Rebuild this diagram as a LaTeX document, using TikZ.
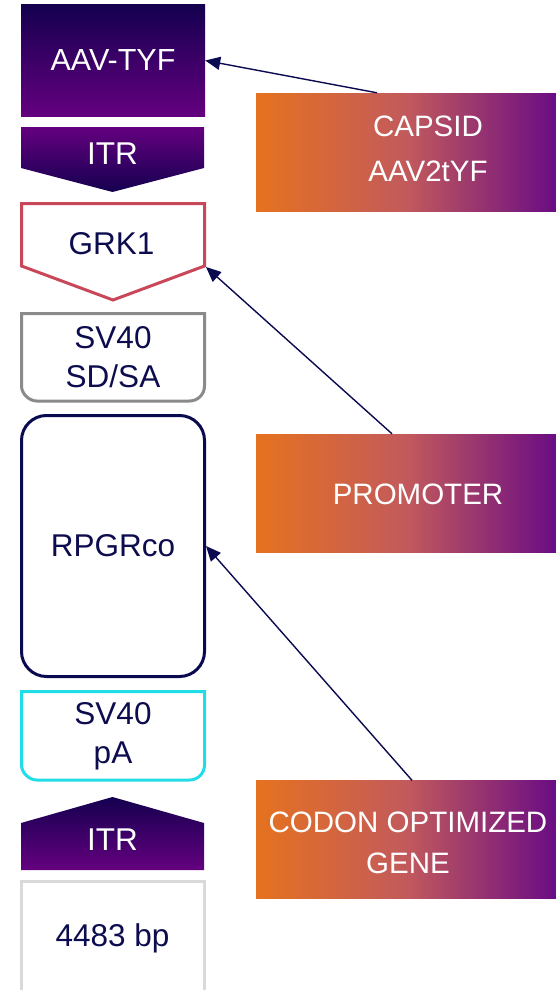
\documentclass[tikz,border=0pt]{standalone}
\usepackage{fontspec}
\setmainfont{Liberation Sans}
\usetikzlibrary{arrows.meta}

\definecolor{deepnavy}{HTML}{14004F}
\definecolor{violet}{HTML}{64007F}
\definecolor{orng}{HTML}{E5721F}
\definecolor{pmid}{HTML}{C25A5C}
\definecolor{rpur}{HTML}{6A0C84}
\definecolor{ink}{HTML}{0C0C4E}
\definecolor{navy}{HTML}{0A0A50}
\definecolor{grkred}{HTML}{C8485A}
\definecolor{svgray}{HTML}{8A8A8A}
\definecolor{pacyan}{HTML}{22DCE6}
\definecolor{lightgray}{HTML}{D9D9D9}

\tikzset{
  lbl/.style={font=\fontsize{31.5}{39}\selectfont, text=ink, align=center, inner sep=0pt},
  wlbl/.style={lbl, text=white},
  nlbl/.style={wlbl, font=\fontsize{29.5}{41}\selectfont},
  note/.style={minimum width=300pt, minimum height=118pt, inner sep=0pt,
               left color=orng, right color=rpur, middle color=pmid},
  link/.style={draw=navy, line width=1.4pt, -{Triangle[length=15pt,width=13pt]}},
  outline/.style={line width=3pt}
}

\begin{document}
\begin{tikzpicture}[x=1pt,y=-1pt]
\useasboundingbox (0,0) rectangle (556,990);

% capsid block
\node[wlbl, font=\fontsize{30.5}{38}\selectfont, minimum width=184pt, minimum height=111pt,
      top color=deepnavy, bottom color=violet] (aav) at (113,60.5) {AAV-TYF};

% 5' ITR, pointing down
\path[top color=violet, bottom color=deepnavy]
  (21,127) -- (204,127) -- (204,168) -- (112.5,192) -- (21,168) -- cycle;
\node[wlbl] (itrtop) at (112.5,154) {ITR};

% GRK1 promoter, pointing down
\draw[outline, draw=grkred, line join=miter]
  (21.5,203.5) -- (204.5,203.5) -- (204.5,266) -- (113,300) -- (21.5,266) -- cycle;
\coordinate (grkshoulder) at (206,267);
\node[lbl] (grk) at (111.5,244) {GRK1};

% SV40 SD/SA intron, rounded lower corners
\draw[outline, draw=svgray]
  (21.5,313.5) -- (21.5,386) .. controls (21.5,394.3) and (29.8,401) .. (36.5,401)
  -- (189.5,401) .. controls (197.8,401) and (204.5,394.3) .. (204.5,386)
  -- (204.5,313.5) -- cycle;
\node[lbl] (sdsa) at (113,357) {SV40\\SD/SA};

% RPGR coding sequence
\node[lbl, draw=navy, outline, rounded corners=25pt,
      minimum width=183pt, minimum height=261pt] (rpgr) at (113,546) {RPGRco};

% SV40 polyA, rounded lower corners
\draw[outline, draw=pacyan]
  (21.5,691.5) -- (21.5,765) .. controls (21.5,773.3) and (29.8,780) .. (36.5,780)
  -- (189.5,780) .. controls (197.8,780) and (204.5,773.3) .. (204.5,765)
  -- (204.5,691.5) -- cycle;
\node[lbl] (pa) at (113,736) {SV40\\pA};

% 3' ITR, pointing up
\path[top color=deepnavy, bottom color=violet]
  (21,870) -- (21,823) -- (112.5,797) -- (204,823) -- (204,870) -- cycle;
\node[wlbl] (itrbot) at (112.5,840) {ITR};

% genome size box, running off the bottom edge
\draw[outline, draw=lightgray]
  (21.5,992) -- (21.5,881.5) -- (204.5,881.5) -- (204.5,992);
\node[lbl] (size) at (112.5,938) {4483 bp};

% annotation boxes
\node[note] (capsid) at (406,152) {};
\node[nlbl, font=\fontsize{29.5}{45}\selectfont] (capsidtxt) at (428,149) {CAPSID\\AAV2tYF};

\node[note] (promoter) at (406,493) {};
\node[nlbl] (promotertxt) at (418,494) {PROMOTER};

\node[note] (codon) at (406,839.5) {};
\node[nlbl] (codontxt) at (408,843) {CODON OPTIMIZED\\GENE};

% pointers
\draw[link] ([xshift=-29pt]capsid.north) -- (aav.east);
\draw[link] ([xshift=-14pt]promoter.north) -- (grkshoulder);
\draw[link] ([xshift=6pt]codon.north) -- (rpgr.east);
\end{tikzpicture}
\end{document}
